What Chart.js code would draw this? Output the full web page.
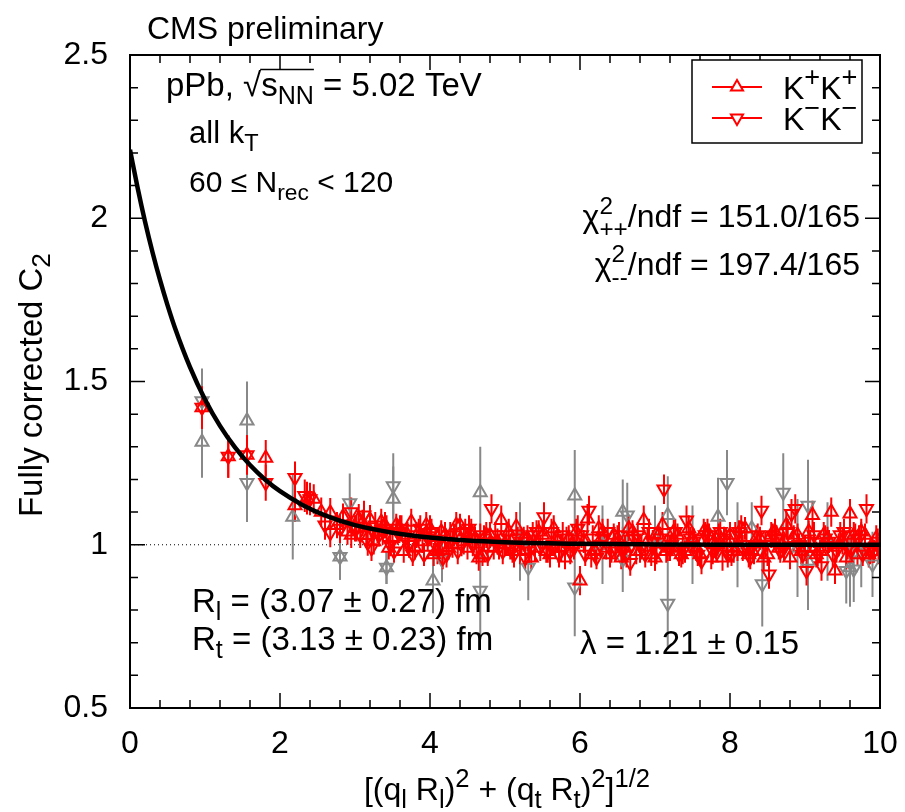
<!DOCTYPE html>
<html><head><meta charset="utf-8">
<script src="https://cdn.jsdelivr.net/npm/chart.js@4/dist/chart.umd.min.js"></script>
<style>html,body{margin:0;padding:0;background:#fff;}#wrap{width:905px;height:812px;}</style>
</head><body><div id="wrap"><canvas id="c" width="905" height="812"></canvas></div>
<script>
// ---------- data ----------
const xTickLabels = [0, 2, 4, 6, 8, 10];
const yTickLabels = [0.5, 1, 1.5, 2, 2.5];

// K+K+ (red, up triangles)
const kpX = [0.96,1.31,1.56,1.81,2.2,2.36,2.45,2.55,2.67,2.76,2.84,2.9,2.95,
  3.00,3.05,3.10,3.15,3.20,3.25,3.30,3.35,3.40,3.45,
  3.50,3.55,3.60,3.65,3.70,3.75,3.80,3.85,3.90,3.95,
  4.00,4.05,4.10,4.15,4.20,4.25,4.30,4.35,4.40,4.45,
  4.50,4.55,4.60,4.65,4.70,4.75,4.80,4.85,4.90,4.95,
  5.00,5.05,5.10,5.15,5.20,5.25,5.30,5.35,5.40,5.45,
  5.50,5.55,5.60,5.65,5.70,5.75,5.80,5.85,5.90,5.95,
  6.00,6.05,6.10,6.15,6.20,6.25,6.30,6.35,6.40,6.45,
  6.50,6.55,6.60,6.65,6.70,6.75,6.80,6.85,6.90,6.95,
  7.00,7.05,7.10,7.15,7.20,7.25,7.30,7.35,7.40,7.45,
  7.50,7.55,7.60,7.65,7.70,7.75,7.80,7.85,7.90,7.95,
  8.00,8.05,8.10,8.15,8.20,8.25,8.30,8.35,8.40,8.45,
  8.50,8.55,8.60,8.65,8.70,8.75,8.80,8.85,8.90,8.95,
  9.00,9.05,9.10,9.15,9.20,9.25,9.30,9.35,9.40,9.45,
  9.50,9.55,9.60,9.65,9.70,9.75,9.80,9.85,9.90,9.95,9.98];
const kpY = [1.42,1.27,1.275,1.266,1.12,1.143,1.14,1.10,1.098,1.06,1.086,1.04,1.03,
  1.05,1.08,1.067,1.03,1.077,1.01,1.04,1.07,1.06,0.99,
  1.02,1.06,1.05,0.98,1.03,1.07,0.99,1.04,1.01,1.06,
  1.05,0.97,0.98,1.04,1.03,0.99,1.00,1.06,1.06,1.01,
  0.99,1.04,1.02,0.96,0.97,1.03,1.03,0.99,1.01,1.075,
  1.00,1.04,0.98,1.055,0.98,1.02,1.02,0.96,0.99,1.04,
  1.03,0.98,0.97,1.05,1.01,0.99,0.96,1.02,1.00,1.04,
  0.89,1.01,1.08,0.97,0.98,1.05,1.04,0.99,0.97,1.03,
  1.02,0.96,0.99,1.05,1.04,0.98,0.98,1.075,1.01,0.97,
  0.96,1.03,1.06,0.98,0.99,1.04,1.03,0.97,0.98,1.05,
  1.02,0.99,0.97,1.04,1.04,0.96,1.00,1.03,0.96,1.01,
  1.03,0.98,0.99,1.05,1.05,0.97,0.98,1.02,1.02,0.96,
  0.97,1.03,1.04,0.99,1.00,1.06,0.96,1.02,1.03,0.98,
  0.99,1.04,1.09,0.97,0.98,1.03,1.02,1.10,0.92,1.00,
  1.01,0.96,1.095,1.03,0.97,1.04,1.03,0.97,0.98,1.02,0.98];
const kpE = [0.065,0.065,0.06,0.055,0.05,0.05,0.045,0.045,0.045,0.04,0.04,0.04,0.04,
  0.04,0.045,0.04,0.04,0.045,0.04,0.035,0.04,0.04,0.035,
  0.04,0.035,0.04,0.035,0.04,0.04,0.035,0.04,0.035,0.04,
  0.04,0.035,0.04,0.035,0.04,0.035,0.04,0.04,0.035,0.04,
  0.035,0.04,0.035,0.04,0.035,0.04,0.04,0.035,0.04,0.045,
  0.035,0.04,0.035,0.045,0.04,0.035,0.04,0.035,0.04,0.035,
  0.04,0.035,0.04,0.04,0.035,0.04,0.035,0.04,0.035,0.04,
  0.045,0.035,0.045,0.04,0.035,0.04,0.04,0.035,0.04,0.035,
  0.04,0.035,0.04,0.04,0.035,0.04,0.035,0.045,0.04,0.035,
  0.04,0.035,0.04,0.035,0.04,0.04,0.035,0.04,0.035,0.04,
  0.035,0.04,0.035,0.04,0.04,0.035,0.04,0.035,0.04,0.035,
  0.04,0.035,0.04,0.04,0.035,0.04,0.035,0.04,0.035,0.04,
  0.035,0.04,0.04,0.035,0.04,0.045,0.035,0.04,0.035,0.04,
  0.04,0.035,0.045,0.04,0.035,0.04,0.035,0.045,0.04,0.035,
  0.04,0.035,0.045,0.04,0.035,0.04,0.035,0.04,0.035,0.04,0.04];

// K-K- (red, down triangles)
const kmX = [0.96,1.31,1.56,1.81,2.2,2.33,2.4,2.6,2.67,2.8,2.95,
  3.02,3.07,3.12,3.17,3.22,3.27,3.32,3.37,3.42,3.47,
  3.52,3.57,3.62,3.67,3.72,3.77,3.82,3.87,3.92,3.97,
  4.02,4.07,4.12,4.17,4.22,4.27,4.32,4.37,4.42,4.47,
  4.52,4.57,4.62,4.67,4.72,4.77,4.82,4.87,4.92,4.97,
  5.02,5.07,5.12,5.17,5.22,5.27,5.32,5.37,5.42,5.47,
  5.52,5.57,5.62,5.67,5.72,5.77,5.82,5.87,5.92,5.97,
  6.02,6.07,6.12,6.17,6.22,6.27,6.32,6.37,6.42,6.47,
  6.52,6.57,6.62,6.67,6.72,6.77,6.82,6.87,6.92,6.97,
  7.02,7.07,7.12,7.17,7.22,7.27,7.32,7.37,7.42,7.47,
  7.52,7.57,7.62,7.67,7.72,7.77,7.82,7.87,7.92,7.97,
  8.02,8.07,8.12,8.17,8.22,8.27,8.32,8.37,8.42,8.47,
  8.52,8.57,8.62,8.67,8.72,8.77,8.82,8.87,8.92,8.97,
  9.02,9.07,9.12,9.17,9.22,9.27,9.32,9.37,9.42,9.47,
  9.52,9.57,9.62,9.67,9.72,9.77,9.82,9.87,9.92,9.97];
const kmY = [1.42,1.27,1.275,1.19,1.205,1.15,1.14,1.06,1.037,1.05,1.10,
  1.05,1.03,1.09,1.006,0.99,1.06,1.03,1.04,1.05,1.00,
  0.98,1.04,1.05,1.02,1.00,0.97,1.03,1.05,0.97,1.02,
  1.04,1.00,1.01,0.96,0.97,1.03,1.03,0.98,1.00,1.04,
  1.05,1.00,0.98,1.03,1.02,0.97,1.11,1.03,0.99,0.98,
  1.03,0.99,0.97,1.02,1.01,0.96,0.98,1.03,1.04,0.99,
  1.085,0.98,1.04,1.00,0.97,1.03,1.02,0.98,0.99,1.05,
  1.03,0.97,1.105,1.02,0.96,1.00,1.02,1.04,0.98,0.99,
  1.03,0.98,0.97,0.945,1.02,1.03,0.99,0.97,1.04,1.01,
  0.98,1.02,1.17,0.99,1.00,1.04,0.97,0.98,1.075,1.02,
  1.01,0.97,0.95,1.03,1.03,0.98,0.99,1.04,1.02,0.97,
  0.97,1.03,1.04,0.99,1.00,0.96,0.98,1.03,1.105,1.00,
  0.91,1.03,1.02,0.98,0.99,1.04,1.095,1.11,1.00,0.97,
  0.92,1.01,1.03,0.97,0.935,1.02,1.01,0.97,0.98,1.03,
  1.04,0.99,0.99,1.03,1.02,0.97,1.11,0.98,0.98,1.01];
const kmE = [0.065,0.065,0.06,0.055,0.05,0.05,0.05,0.045,0.045,0.045,0.045,
  0.04,0.04,0.045,0.04,0.04,0.04,0.035,0.04,0.04,0.035,
  0.035,0.04,0.04,0.035,0.04,0.035,0.04,0.04,0.035,0.04,
  0.04,0.035,0.04,0.035,0.04,0.04,0.035,0.04,0.035,0.04,
  0.04,0.035,0.04,0.035,0.04,0.035,0.045,0.04,0.035,0.04,
  0.04,0.035,0.04,0.035,0.04,0.035,0.04,0.04,0.035,0.04,
  0.045,0.035,0.04,0.035,0.04,0.04,0.035,0.04,0.035,0.04,
  0.04,0.035,0.045,0.04,0.035,0.04,0.035,0.04,0.035,0.04,
  0.04,0.035,0.04,0.04,0.035,0.04,0.035,0.04,0.04,0.035,
  0.04,0.035,0.045,0.04,0.035,0.04,0.035,0.04,0.045,0.035,
  0.04,0.035,0.04,0.04,0.035,0.04,0.035,0.04,0.035,0.04,
  0.035,0.04,0.035,0.04,0.04,0.035,0.04,0.035,0.045,0.04,
  0.045,0.035,0.04,0.035,0.04,0.04,0.045,0.045,0.035,0.04,
  0.045,0.035,0.04,0.035,0.045,0.04,0.035,0.04,0.035,0.04,
  0.04,0.035,0.04,0.035,0.04,0.035,0.045,0.04,0.035,0.04];

// grey points, up triangles
const guX = [0.96,1.56,2.17,2.8,3.42,3.51,4.04,4.67,5.2,5.93,6.3,6.57,7.0,7.17,7.84,8.1,8.29,8.9,9.04,9.3,9.6,9.75];
const guY = [1.315,1.38,1.085,0.963,0.93,1.14,0.89,1.16,1.01,1.15,1.00,1.10,1.02,1.09,1.085,1.00,1.05,0.99,0.95,1.01,0.93,0.97];
const guE = [0.11,0.12,0.13,0.07,0.05,0.10,0.10,0.14,0.12,0.14,0.12,0.10,0.10,0.12,0.12,0.13,0.08,0.15,0.15,0.12,0.12,0.10];

// grey points, down triangles
const gdX = [0.96,1.56,2.8,2.93,3.42,3.51,4.16,4.67,5.31,5.93,6.57,6.63,7.17,7.5,7.96,8.43,8.71,9.04,9.55,9.65,9.9];
const gdY = [1.44,1.19,0.963,1.128,0.93,1.18,0.955,0.86,0.93,0.87,0.955,1.09,0.82,1.00,1.19,0.88,1.16,1.12,0.92,0.925,0.94];
const gdE = [0.10,0.12,0.07,0.09,0.05,0.10,0.07,0.15,0.10,0.15,0.10,0.10,0.14,0.12,0.10,0.13,0.12,0.14,0.10,0.10,0.10];

// fitted curve, values
const fitX = [0,0.1,0.2,0.3,0.4,0.5,0.6,0.8,1.0,1.2,1.4,1.6,1.8,2.0,2.3,2.6,3.0,3.5,4.0,4.5,5,6,7,8,10];
const fitY = [2.21,2.095,1.99,1.896,1.811,1.734,1.664,1.544,1.445,1.364,1.298,1.244,1.20,1.164,1.122,1.09,1.06,1.037,1.022,1.013,1.008,1.003,1.001,1.0,1.0];

// ---------- drawing ----------
const FONT = '"Liberation Sans", Arial, Helvetica, sans-serif';
const FS = 32;
const RED = '#ff0000', GREY = '#888888';
const pts = (xs, ys) => xs.map((v, i) => ({x: v, y: ys[i]}));

function setF(ctx, s) { ctx.font = s + 'px ' + FONT; }
function rich(ctx, x, y, parts, size, align, sf) {
  const small = size * (sf || 0.76);
  let w = 0; const items = [];
  for (const p of parts) {
    const it = Object.assign({}, p);
    if (p.ss) { setF(ctx, small); it.w = Math.max(ctx.measureText(p.ss[0]).width, ctx.measureText(p.ss[1]).width); }
    else { setF(ctx, p.s ? small : size); it.w = ctx.measureText(p.t).width; }
    it.x = w; w += it.w; items.push(it);
  }
  const x0 = align === 'right' ? x - w : (align === 'center' ? x - w / 2 : x);
  ctx.fillStyle = '#000'; ctx.textAlign = 'left'; ctx.textBaseline = 'alphabetic';
  let ovA = null, ovB = null;
  for (const it of items) {
    const px = x0 + it.x;
    if (it.ss) {
      setF(ctx, small);
      ctx.fillText(it.ss[0], px, y - size * 0.42);
      ctx.fillText(it.ss[1], px, y + size * 0.3);
    } else {
      setF(ctx, it.s ? small : size);
      const dy = it.s === 'sup' ? -size * 0.42 : (it.s === 'sub' ? size * 0.25 : 0);
      ctx.fillText(it.t, px, y + dy);
    }
    if (it.ov) { if (ovA === null) ovA = px; ovB = px + it.w; }
  }
  if (ovA !== null) {
    ctx.beginPath(); ctx.lineWidth = 1.5; ctx.strokeStyle = '#000';
    ctx.moveTo(ovA - 1, y - size * 0.8); ctx.lineTo(ovB, y - size * 0.8); ctx.stroke();
  }
  return w;
}

const framePlugin = {
  id: 'frame',
  beforeDatasetsDraw(chart) {
    const {ctx, scales: {x, y}} = chart;
    ctx.save();
    ctx.setLineDash([1, 3]); ctx.lineWidth = 1; ctx.strokeStyle = '#000';
    const py = y.getPixelForValue(1);
    ctx.beginPath(); ctx.moveTo(x.getPixelForValue(0), py); ctx.lineTo(x.getPixelForValue(10), py); ctx.stroke();
    ctx.setLineDash([]);
    const order = [4, 3, 2, 1];
    for (const di of order) {
      const ds = chart.data.datasets[di];
      ctx.strokeStyle = ds.borderColor; ctx.lineWidth = 2;
      ctx.beginPath();
      ds.data.forEach((p, i) => {
        const e = ds.errs[i];
        const px = x.getPixelForValue(p.x);
        ctx.moveTo(px, y.getPixelForValue(p.y + e));
        ctx.lineTo(px, y.getPixelForValue(p.y - e));
      });
      ctx.stroke();
    }
    ctx.restore();
  },
  afterDatasetsDraw(chart) {
    const {ctx, chartArea: a, scales: {x, y}} = chart;
    ctx.save();
    ctx.strokeStyle = '#000'; ctx.lineWidth = 2;
    ctx.strokeRect(a.left, a.top, a.right - a.left, a.bottom - a.top);
    ctx.lineWidth = 1.5;
    ctx.beginPath();
    const MAJ = 15, MIN = 8;
    for (let i = 0; i <= 25; i++) {
      const px = x.getPixelForValue(i * 0.4);
      const L = (i % 5 === 0) ? MAJ : MIN;
      ctx.moveTo(px, a.bottom); ctx.lineTo(px, a.bottom - L);
      ctx.moveTo(px, a.top); ctx.lineTo(px, a.top + L);
    }
    for (let i = 0; i <= 20; i++) {
      const py = y.getPixelForValue(0.5 + i * 0.1);
      const L = (i % 5 === 0) ? MAJ : MIN;
      ctx.moveTo(a.left, py); ctx.lineTo(a.left + L, py);
      ctx.moveTo(a.right, py); ctx.lineTo(a.right - L, py);
    }
    ctx.stroke();
    ctx.restore();
  },
  afterDraw(chart) {
    const ctx = chart.ctx;
    ctx.save();
    // legend
    ctx.fillStyle = '#fff'; ctx.fillRect(692, 60, 170, 83);
    ctx.strokeStyle = '#000'; ctx.lineWidth = 1.5; ctx.strokeRect(692, 60, 170, 83);
    const rows = [{yy: 87, rot: 0, parts: [{t: 'K'}, {t: '+', s: 'sup'}, {t: 'K'}, {t: '+', s: 'sup'}]},
                  {yy: 118, rot: 180, parts: [{t: 'K'}, {t: '\u2212', s: 'sup'}, {t: 'K'}, {t: '\u2212', s: 'sup'}]}];
    for (const r of rows) {
      ctx.strokeStyle = RED; ctx.lineWidth = 2;
      ctx.beginPath(); ctx.moveTo(712, r.yy); ctx.lineTo(762, r.yy); ctx.stroke();
      ctx.fillStyle = '#fff';
      Chart.helpers.drawPoint(ctx, {pointStyle: 'triangle', rotation: r.rot, radius: 7, borderWidth: 2}, 737, r.yy);
      rich(ctx, 783, r.yy + 12, r.parts, 32, 'left', 0.85);
    }
    // texts
    rich(ctx, 147, 39, [{t: 'CMS preliminary'}], 32, 'left');
    rich(ctx, 166, 96, [{t: 'pPb, \u221A'}, {t: 's', ov: true}, {t: 'NN', s: 'sub', ov: true}, {t: ' = 5.02 TeV'}], 33, 'left');
    rich(ctx, 189, 143, [{t: 'all k'}, {t: 'T', s: 'sub'}], 31, 'left');
    rich(ctx, 189, 192, [{t: '60 \u2264 N'}, {t: 'rec', s: 'sub'}, {t: ' < 120'}], 30, 'left');
    rich(ctx, 860, 227, [{t: '\u03C7'}, {ss: ['2', '++']}, {t: '/ndf = 151.0/165'}], 32, 'right');
    rich(ctx, 860, 275, [{t: '\u03C7'}, {ss: ['2', '--']}, {t: '/ndf = 197.4/165'}], 32, 'right');
    rich(ctx, 192, 612, [{t: 'R'}, {t: 'l', s: 'sub'}, {t: ' = (3.07 \u00B1 0.27) fm'}], 33, 'left');
    rich(ctx, 192, 650, [{t: 'R'}, {t: 't', s: 'sub'}, {t: ' = (3.13 \u00B1 0.23) fm'}], 33, 'left');
    rich(ctx, 580, 654, [{t: '\u03BB = 1.21 \u00B1 0.15'}], 33, 'left');
    rich(ctx, 507, 800, [{t: '[(q'}, {t: 'l', s: 'sub'}, {t: ' R'}, {t: 'l', s: 'sub'}, {t: ')'}, {t: '2', s: 'sup'},
      {t: ' + (q'}, {t: 't', s: 'sub'}, {t: ' R'}, {t: 't', s: 'sub'}, {t: ')'}, {t: '2', s: 'sup'}, {t: ']'}, {t: '1/2', s: 'sup'}], 32, 'center', 0.8);
    ctx.translate(42, 385); ctx.rotate(-Math.PI / 2);
    rich(ctx, 0, 0, [{t: 'Fully corrected C'}, {t: '2', s: 'sub'}], 33, 'center', 0.8);
    ctx.restore();
  }
};

const tickFont = {size: FS, family: FONT};
new Chart(document.getElementById('c'), {
  type: 'scatter',
  data: {
    datasets: [
      {type: 'line', label: 'fit', data: pts(fitX, fitY), borderColor: '#000', borderWidth: 4.5, pointRadius: 0,
       showLine: true, fill: false, cubicInterpolationMode: 'monotone'},
      {label: 'K+K+', data: pts(kpX, kpY), errs: kpE, pointStyle: 'triangle', rotation: 0, pointRadius: 7.5,
       borderColor: RED, backgroundColor: 'rgba(0,0,0,0)', borderWidth: 2},
      {label: 'K-K-', data: pts(kmX, kmY), errs: kmE, pointStyle: 'triangle', rotation: 180, pointRadius: 7.5,
       borderColor: RED, backgroundColor: 'rgba(0,0,0,0)', borderWidth: 2},
      {label: 'grey up', data: pts(guX, guY), errs: guE, pointStyle: 'triangle', rotation: 0, pointRadius: 7.5,
       borderColor: GREY, backgroundColor: 'rgba(0,0,0,0)', borderWidth: 2},
      {label: 'grey down', data: pts(gdX, gdY), errs: gdE, pointStyle: 'triangle', rotation: 180, pointRadius: 7.5,
       borderColor: GREY, backgroundColor: 'rgba(0,0,0,0)', borderWidth: 2}
    ]
  },
  options: {
    responsive: false, animation: false, devicePixelRatio: 1,
    layout: {padding: {top: 55, right: 25, left: 0, bottom: 0}},
    plugins: {legend: {display: false}, tooltip: {enabled: false}},
    scales: {
      x: {type: 'linear', min: 0, max: 10,
          afterBuildTicks(s) { s.ticks = xTickLabels.map(v => ({value: v})); },
          ticks: {font: tickFont, color: '#000', padding: 17, maxRotation: 0, callback: v => String(v)},
          grid: {display: false, drawTicks: false}, border: {display: false},
          afterFit(s) { s.height = 104; s.paddingLeft = 0; s.paddingRight = 0; }},
      y: {type: 'linear', min: 0.5, max: 2.5,
          afterBuildTicks(s) { s.ticks = yTickLabels.map(v => ({value: v})); },
          ticks: {font: tickFont, color: '#000', padding: 22, callback: v => String(v)},
          grid: {display: false, drawTicks: false}, border: {display: false},
          afterFit(s) { s.width = 130; s.paddingTop = 0; s.paddingBottom = 0; }}
    }
  },
  plugins: [framePlugin]
});
</script></body></html>
